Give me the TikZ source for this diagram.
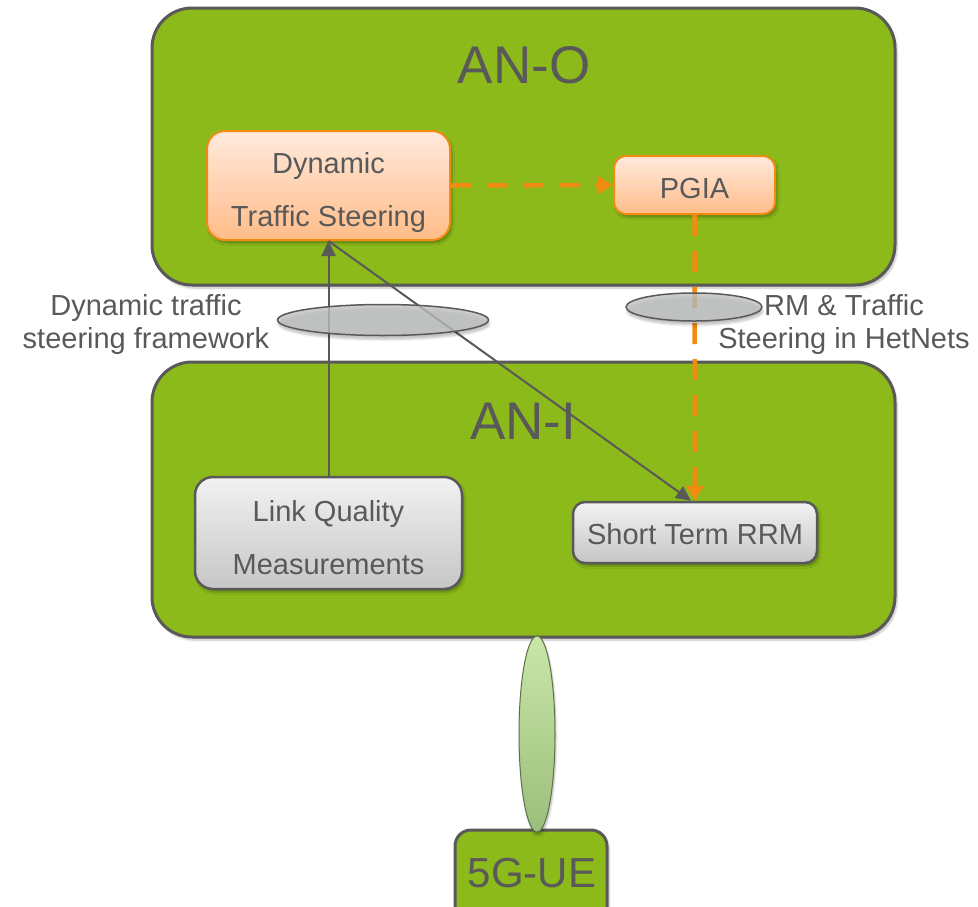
\documentclass[tikz,border=0pt]{standalone}
\usepackage{fontspec}
\setmainfont{Liberation Sans}
\usetikzlibrary{shapes.geometric,arrows.meta,shadows.blur}

\definecolor{leaf}{HTML}{8BBA1A}
\definecolor{ink}{HTML}{595959}
\definecolor{tang}{HTML}{F18C13}
\definecolor{peachtop}{HTML}{FFEADD}
\definecolor{peachbot}{HTML}{FFBC88}
\definecolor{silvertop}{HTML}{F2F2F2}
\definecolor{silverbot}{HTML}{C6C6C6}
\definecolor{mist}{HTML}{BEC0C0}
\definecolor{sproutA}{HTML}{C8E6A8}
\definecolor{sproutB}{HTML}{9CBE7C}

% invisible strut that lowers the text block inside a box
\newcommand{\lowerby}[1]{\rule{0pt}{#1}}

\tikzset{
  netbox/.style={draw=ink, line width=3pt, fill=leaf, rounded corners=40pt,
    inner sep=0pt, blur shadow={shadow blur steps=6, shadow xshift=2pt, shadow yshift=-3pt, shadow opacity=25}},
  orangebox/.style={draw=tang, line width=2pt, top color=peachtop, bottom color=peachbot,
    rounded corners=18pt, inner sep=0pt, align=center, text=ink,
    font=\fontsize{29}{53}\selectfont,
    blur shadow={shadow blur steps=5, shadow xshift=2pt, shadow yshift=-3pt, shadow opacity=30}},
  greybox/.style={draw=ink, line width=2.5pt, top color=silvertop, bottom color=silverbot,
    rounded corners=18pt, inner sep=0pt, align=center, text=ink,
    font=\fontsize{29}{53}\selectfont,
    blur shadow={shadow blur steps=5, shadow xshift=2pt, shadow yshift=-3pt, shadow opacity=30}},
  bigtitle/.style={text=ink, font=\fontsize{53}{60}\selectfont},
  sidenote/.style={text=ink, align=center, font=\fontsize{29}{33}\selectfont},
  linkoval/.style={ellipse, draw=ink, line width=1.5pt, fill=mist, fill opacity=0.8, inner sep=0pt,
    blur shadow={shadow blur steps=5, shadow xshift=1pt, shadow yshift=-4pt, shadow opacity=30}},
  greyarrow/.style={draw=ink, line width=2pt, -{Triangle[width=14pt,length=15pt]}},
  orangedash/.style={draw=tang, line width=4.5pt, dash pattern=on 21pt off 15pt,
    -{Triangle[width=17pt,length=15pt]}},
}

\begin{document}
\begin{tikzpicture}[x=1pt,y=-1pt]
\useasboundingbox (0,0) rectangle (978,906);
\clip (0,0) rectangle (978,906);

% access network domains
\node[netbox, minimum width=743pt, minimum height=277pt] (ano) at (523.5,146.5) {};
\node[netbox, minimum width=743pt, minimum height=275pt] (ani) at (523.5,499.5) {};
\node[bigtitle] (anolabel) at (524,65) {AN-O};
\node[bigtitle] (anilabel) at (523,421) {AN-I};

% user equipment
\node[netbox, rounded corners=16pt, minimum width=152pt, minimum height=100pt] (ue) at (531,880) {};
\node[text=ink, font=\fontsize{42}{46}\selectfont] (uelabel) at (532,873) {5G-UE};

% functional blocks
\node[orangebox, minimum width=243pt, minimum height=109pt] (dts) at (328.5,185.5)
  {\lowerby{35pt}Dynamic\\Traffic Steering};
\node[orangebox, rounded corners=12pt, minimum width=161pt, minimum height=58pt] (pgia) at (694.5,185)
  {\lowerby{27pt}PGIA};
\node[greybox, minimum width=267pt, minimum height=112pt] (lqm) at (328.5,533)
  {\lowerby{31pt}Link Quality\\Measurements};
\node[greybox, rounded corners=12pt, minimum width=244pt, minimum height=61pt] (rrm) at (695,532.5)
  {\lowerby{25pt}Short Term RRM};

% interactions
\draw[greyarrow] (lqm.north) -- (dts.south);
\draw[greyarrow] (dts.south) -- ([xshift=-4pt]rrm.north);
\draw[orangedash] (dts.east) -- (pgia.west);
\draw[orangedash] (pgia.south) -- (rrm.north);

% interface ovals and their labels
\node[linkoval, minimum width=211pt, minimum height=31pt] (leftoval) at (383,320) {};
\node[linkoval, minimum width=136pt, minimum height=28pt] (rightoval) at (694,307) {};
\node[sidenote] (leftnote) at (146,324) {Dynamic traffic\\steering framework};
\node[sidenote] (rightnote) at (844,324) {RM \& Traffic\\Steering in HetNets};

% radio link
\node[ellipse, draw=sproutB!60!black, line width=1pt, top color=sproutA, bottom color=sproutB,
  inner sep=0pt, minimum width=36pt, minimum height=196pt,
  blur shadow={shadow blur steps=5, shadow xshift=1pt, shadow yshift=-3pt, shadow opacity=30}]
  (radio) at (537,734) {};
\end{tikzpicture}
\end{document}
